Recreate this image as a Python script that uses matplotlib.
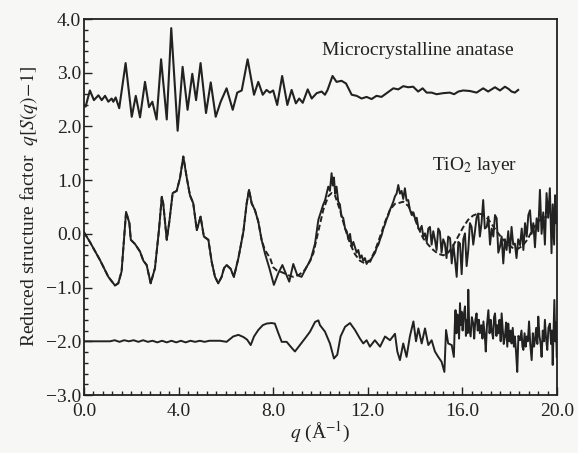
import numpy as np
import matplotlib
matplotlib.use("Agg")
import matplotlib.pyplot as plt
from matplotlib.ticker import MultipleLocator, FuncFormatter

# --- data -----------------------------------------------------------------
# microcrystalline anatase (offset curve)
q_anatase = [0.00, 0.07, 0.25, 0.42, 0.61, 0.75, 0.89, 1.03, 1.17, 1.24, 1.34, 1.49,
             1.76, 2.02, 2.19, 2.37, 2.58, 2.75, 2.89, 3.07, 3.26, 3.50, 3.69, 3.96,
             4.17, 4.38, 4.58, 4.74, 4.93, 5.16, 5.36, 5.57, 5.78, 6.03, 6.29, 6.48,
             6.67, 6.92, 7.19, 7.37, 7.56, 7.72, 7.86, 8.00, 8.17, 8.38, 8.60, 8.78,
             8.96, 9.10, 9.25, 9.46, 9.63, 9.84, 10.05, 10.19, 10.30, 10.51, 10.68,
             10.89, 11.08, 11.32, 11.53, 11.74, 11.95, 12.16, 12.37, 12.58, 12.80,
             13.08, 13.29, 13.50, 13.71, 13.92, 14.13, 14.32, 14.49, 14.70, 14.91,
             15.19, 15.47, 15.65, 15.83, 16.04, 16.32, 16.60, 16.88, 17.09, 17.38,
             17.59, 17.80, 17.95, 18.08, 18.22, 18.36]
s_anatase = [2.40, 2.37, 2.67, 2.49, 2.58, 2.49, 2.57, 2.46, 2.52, 2.46, 2.54, 2.34,
             3.18, 2.18, 2.57, 2.17, 2.83, 2.36, 2.46, 2.13, 3.25, 2.13, 3.83, 1.92,
             3.11, 2.31, 2.98, 2.49, 3.18, 2.25, 2.82, 2.18, 2.46, 2.71, 2.31, 2.63,
             2.67, 3.25, 2.59, 2.83, 2.59, 2.68, 2.63, 2.67, 2.40, 2.94, 2.40, 2.68,
             2.43, 2.52, 2.44, 2.69, 2.52, 2.62, 2.65, 2.59, 2.68, 2.94, 2.83,
             2.85, 2.80, 2.59, 2.57, 2.52, 2.55, 2.51, 2.57, 2.55, 2.62,
             2.71, 2.69, 2.75, 2.73, 2.74, 2.65, 2.71, 2.63, 2.63, 2.60,
             2.62, 2.63, 2.60, 2.65, 2.67, 2.66, 2.63, 2.71, 2.65, 2.73,
             2.67, 2.74, 2.70, 2.65, 2.63, 2.68]

# TiO2 layer, measured (solid)
q_layer = [0.00, 0.25, 0.68, 1.03, 1.31, 1.45, 1.59, 1.78, 1.92, 1.98, 2.16, 2.37,
           2.51, 2.65, 2.82, 3.00, 3.17, 3.29, 3.35, 3.50, 3.61, 3.75, 3.92, 4.06,
           4.20, 4.34, 4.48, 4.62, 4.77, 4.93, 5.07, 5.26, 5.40, 5.54, 5.68, 5.82,
           5.92, 6.03, 6.20, 6.34, 6.53, 6.74, 6.88, 6.98, 7.09, 7.23, 7.37, 7.51,
           7.65, 7.84, 8.03, 8.22, 8.39, 8.50, 8.68, 8.85, 9.02, 9.20, 9.42, 9.58,
           9.77, 9.91, 10.05, 10.12, 10.19, 10.26, 10.33, 10.40, 10.47, 10.52, 10.57,
           10.62, 10.68, 10.75, 10.82, 10.89, 10.96, 11.04, 11.11, 11.18, 11.25,
           11.32, 11.39, 11.46, 11.53, 11.60, 11.67, 11.74, 11.81, 11.88, 11.95,
           12.03, 12.10, 12.17, 12.24, 12.31, 12.38, 12.45, 12.52, 12.59, 12.66,
           12.73, 12.80, 12.87, 12.94, 13.01, 13.08, 13.15, 13.22, 13.29, 13.36,
           13.43, 13.50, 13.57, 13.64, 13.71, 13.78, 13.86, 13.93, 14.00, 14.07,
           14.14, 14.21, 14.28, 14.35, 14.42, 14.49, 14.56, 14.63, 14.70, 14.77,
           14.84, 14.91, 14.98, 15.05, 15.12, 15.19, 15.26, 15.33, 15.40, 15.48,
           15.55, 15.62, 15.69, 15.76, 15.83, 15.90, 15.97, 16.04, 16.11, 16.18,
           16.25, 16.32, 16.39, 16.46, 16.53, 16.60, 16.67, 16.74, 16.81, 16.88,
           16.95, 17.03, 17.10, 17.17, 17.24, 17.31, 17.38, 17.45, 17.52, 17.59,
           17.66, 17.73, 17.80, 17.87, 17.94, 18.01, 18.08, 18.15, 18.22, 18.29,
           18.36, 18.44, 18.51, 18.58, 18.65, 18.72, 18.79, 18.86, 18.93, 19.00,
           19.07, 19.14, 19.21, 19.28, 19.35, 19.42, 19.49, 19.56, 19.63, 19.70,
           19.77, 19.82, 19.88, 19.92, 19.97]
s_layer = [0.03, -0.15, -0.49, -0.80, -0.96, -0.92, -0.70, 0.41, 0.20, -0.11, -0.19, -0.33,
           -0.50, -0.58, -0.92, -0.64, 0.07, 0.69, 0.57, -0.11, 0.23, 0.76, 0.80, 1.04,
           1.44, 1.06, 0.72, 0.57, 0.07, 0.32, -0.05, -0.11, -0.52, -0.80, -0.92, -0.80,
           -0.64, -0.58, -0.65, -0.80, -0.45, 0.04, 0.57, 0.82, 0.57, 0.44, 0.23, -0.11,
           -0.36, -0.64, -0.95, -0.73, -0.58, -0.70, -0.89, -0.56, -0.77, -0.80, -0.61, -0.49,
           -0.18, 0.26, 0.45, 0.55, 0.62, 0.75, 0.88, 0.80, 1.13, 0.90, 1.05,
           0.75, 0.88, 0.60, 0.55, 0.32, 0.30, 0.10, 0.05, -0.10, 0.00,
           -0.24, -0.15, -0.25, -0.35, -0.30, -0.45, -0.40, -0.50, -0.45, -0.56,
           -0.50, -0.52, -0.45, -0.40, -0.35, -0.25, -0.20, -0.10, -0.02, 0.10,
           0.18, 0.28, 0.35, 0.45, 0.52, 0.60, 0.70, 0.75, 0.91, 0.75,
           0.80, 0.65, 0.85, 0.62, 0.63, 0.45, 0.35, 0.40, 0.28, 0.30,
           0.10, 0.07, 0.15, -0.05, 0.01, -0.15, 0.10, 0.13, -0.20, 0.05,
           -0.11, -0.30, 0.10, 0.04, -0.35, -0.10, -0.18, -0.45, -0.05, -0.08,
           -0.55, -0.20, -0.49, -0.80, -0.15, -0.18, -0.75, -0.10, 0.01, -0.60,
           -0.30, 0.20, 0.13, -0.20, 0.04, 0.30, 0.38, -0.05, 0.20, 0.63,
           0.10, 0.13, 0.32, -0.20, 0.10, -0.05, 0.35, 0.29, -0.35, -0.24,
           -0.05, -0.55, -0.10, -0.30, 0.05, -0.35, 0.13, -0.20, -0.18, -0.45,
           -0.10, -0.21, 0.10, -0.30, 0.20, -0.05, 0.35, 0.44, 0.00, 0.20,
           -0.25, 0.29, 0.05, 0.82, 0.00, 0.40, -0.20, 0.76, 0.30, 0.85,
           -0.36, 0.55, -0.20, 0.72, 0.20]

# TiO2 layer, model (dashed)
q_model = [0.00, 0.25, 0.68, 1.03, 1.31, 1.45, 1.59, 1.78, 1.92, 1.98, 2.16, 2.37,
           2.51, 2.65, 2.82, 3.00, 3.17, 3.29, 3.35, 3.50, 3.61, 3.75, 3.92, 4.06,
           4.20, 4.34, 4.48, 4.62, 4.77, 4.93, 5.07, 5.26, 5.40, 5.54, 5.68, 5.82,
           5.92, 6.03, 6.20, 6.34, 6.53, 6.74, 6.88, 6.98, 7.09, 7.23, 7.37, 7.51,
           7.65, 7.87, 8.00, 8.15, 8.29, 8.50, 8.70, 8.85, 9.10, 9.34, 9.50, 9.70,
           9.91, 10.12, 10.33, 10.47, 10.61, 10.82, 11.04, 11.25, 11.46, 11.67, 11.88,
           12.09, 12.30, 12.52, 12.73, 12.94, 13.15, 13.36, 13.50, 13.71, 13.92, 14.13,
           14.34, 14.55, 14.77, 14.98, 15.19, 15.40, 15.61, 15.82, 16.03, 16.24, 16.45,
           16.66, 16.87, 17.08, 17.29, 17.50, 17.71, 17.92, 18.13, 18.34, 18.55, 18.76,
           18.97, 19.18, 19.39, 19.60]
s_model = [0.03, -0.15, -0.49, -0.80, -0.96, -0.92, -0.70, 0.41, 0.20, -0.11, -0.19, -0.33,
           -0.50, -0.58, -0.92, -0.64, 0.07, 0.69, 0.57, -0.11, 0.23, 0.76, 0.80, 1.04,
           1.44, 1.06, 0.72, 0.57, 0.07, 0.32, -0.05, -0.11, -0.52, -0.80, -0.92, -0.80,
           -0.64, -0.58, -0.65, -0.80, -0.45, 0.04, 0.57, 0.82, 0.57, 0.44, 0.23, -0.11,
           -0.30, -0.45, -0.62, -0.68, -0.70, -0.74, -0.78, -0.80, -0.76, -0.67, -0.55, -0.36,
           0.05, 0.45, 0.70, 0.76, 0.72, 0.45, 0.10, -0.18, -0.38, -0.50, -0.55,
           -0.50, -0.32, -0.05, 0.22, 0.45, 0.56, 0.58, 0.60, 0.52, 0.36, 0.12,
           -0.08, -0.20, -0.30, -0.37, -0.40, -0.35, -0.22, -0.05, 0.12, 0.26, 0.34,
           0.38, 0.36, 0.28, 0.15, 0.02, -0.10, -0.20, -0.26, -0.28, -0.22, -0.10,
           0.08, 0.22, 0.30, 0.32]

# difference curve (offset -2)
q_diff = [0.00, 1.10, 1.30, 1.50, 1.70, 1.90, 2.10, 2.30, 2.50, 2.70, 2.90, 3.10,
          3.30, 3.50, 3.70, 3.90, 4.10, 4.30, 4.50, 4.70, 4.90, 5.10, 5.30, 5.50,
          5.75, 6.03, 6.31, 6.53, 6.74, 6.90, 7.05, 7.19, 7.37, 7.56, 7.72, 7.93,
          8.07, 8.22, 8.36, 8.57, 8.74, 8.92, 9.13, 9.34, 9.56, 9.77, 9.91, 9.98,
          10.19, 10.40, 10.57, 10.71, 10.85, 11.04, 11.25, 11.46, 11.67, 11.81, 11.95,
          12.09, 12.30, 12.52, 12.73, 12.94, 13.15, 13.25, 13.36, 13.50, 13.64, 13.78,
          13.93, 14.04, 14.14, 14.28, 14.42, 14.56, 14.70, 14.84, 14.98, 15.12, 15.24,
          15.31, 15.40, 15.55, 15.64, 15.68, 15.71, 15.75, 15.79, 15.83, 15.86, 15.90,
          15.94, 15.97, 16.01, 16.05, 16.11, 16.15, 16.18, 16.22, 16.25, 16.29, 16.35,
          16.40, 16.46, 16.50, 16.55, 16.60, 16.65, 16.70, 16.74, 16.80, 16.85, 16.89,
          16.95, 16.99, 17.04, 17.10, 17.15, 17.20, 17.24, 17.30, 17.34, 17.38, 17.44,
          17.48, 17.52, 17.57, 17.62, 17.66, 17.71, 17.75, 17.80, 17.85, 17.90, 17.94,
          17.99, 18.04, 18.08, 18.13, 18.18, 18.22, 18.27, 18.32, 18.37, 18.44, 18.50,
          18.54, 18.58, 18.63, 18.68, 18.72, 18.77, 18.82, 18.87, 18.93, 18.98, 19.03,
          19.07, 19.12, 19.17, 19.21, 19.26, 19.31, 19.35, 19.40, 19.45, 19.49, 19.54,
          19.59, 19.64, 19.70, 19.75, 19.79, 19.82, 19.86, 19.89, 19.93, 19.96, 19.99]
s_diff = [-2.00, -2.00, -1.98, -2.01, -1.98, -2.00, -1.98, -2.01, -1.98, -2.01, -1.99, -2.02,
          -1.99, -2.02, -1.99, -2.02, -1.99, -2.02, -1.99, -2.01, -1.99, -2.01, -1.99, -1.99,
          -1.99, -2.01, -1.91, -1.88, -1.92, -1.97, -2.07, -1.91, -1.79, -1.70, -1.67, -1.66,
          -1.67, -1.85, -2.01, -2.01, -2.10, -2.19, -2.07, -1.95, -1.82, -1.64, -1.61, -1.70,
          -1.82, -2.04, -2.32, -2.25, -1.91, -1.73, -1.66, -1.79, -1.95, -2.04, -1.98,
          -2.10, -1.98, -2.10, -1.91, -1.98, -1.86, -2.19, -2.35, -2.04, -2.29, -1.91,
          -1.63, -2.00, -1.76, -2.04, -1.76, -2.07, -1.98, -2.19, -2.29, -2.38, -2.57,
          -1.79, -2.04, -2.07, -2.29, -1.70, -1.42, -1.85, -1.50, -1.63, -1.95, -1.29,
          -1.70, -1.45, -1.80, -1.55, -1.35, -1.90, -1.60, -1.85, -1.04, -1.75, -1.91,
          -1.55, -1.67, -1.95, -1.60, -1.48, -1.80, -1.60, -1.85, -1.70, -1.95, -1.63,
          -1.90, -2.19, -1.70, -1.42, -1.85, -1.60, -1.79, -1.95, -1.55, -1.48, -1.90,
          -1.70, -1.85, -1.60, -2.00, -1.48, -1.80, -2.05, -1.91, -1.65, -2.10, -1.67,
          -2.00, -1.80, -2.04, -1.75, -2.10, -1.91, -2.20, -2.57, -1.90, -1.98, -1.80,
          -2.10, -2.16, -1.85, -2.10, -1.91, -2.00, -1.63, -2.05, -2.35, -1.85, -2.10,
          -1.98, -1.75, -2.05, -1.54, -1.90, -2.05, -2.29, -1.80, -2.00, -1.60, -1.95,
          -2.16, -1.75, -1.67, -2.05, -1.80, -2.44, -1.70, -1.23, -2.00, -1.65, -2.29]

x_ticks = [0.0, 4.0, 8.0, 12.0, 16.0, 20.0]
y_ticks = [-3.0, -2.0, -1.0, 0.0, 1.0, 2.0, 3.0, 4.0]

# --- figure ----------------------------------------------------------------
plt.rcParams['font.family'] = ['Liberation Serif', 'DejaVu Serif']
plt.rcParams['mathtext.fontset'] = 'stix'

ink = '#222222'
fig = plt.figure(figsize=(5.78, 4.53), dpi=100, facecolor='#f7f7f5')
ax = fig.add_axes([0.1453, 0.128, 0.8183, 0.830])
ax.set_facecolor('#f7f7f5')

ax.plot(q_anatase, s_anatase, color=ink, lw=1.5, solid_joinstyle='round')
ax.plot(q_model, s_model, color=ink, lw=1.4, ls=(0, (3, 1.5)))
ax.plot(q_layer, s_layer, color=ink, lw=1.4, solid_joinstyle='round')
ax.plot(q_diff, s_diff, color=ink, lw=1.4, solid_joinstyle='round')

ax.set_xlim(0, 20)
ax.set_ylim(-3, 4)
ax.set_xticks(x_ticks)
ax.set_yticks(y_ticks)
ax.xaxis.set_minor_locator(MultipleLocator(0.4))
ax.yaxis.set_minor_locator(MultipleLocator(0.2))
fmt = FuncFormatter(lambda v, p: f'{v:.1f}'.replace('-', '\u2212'))
ax.xaxis.set_major_formatter(fmt)
ax.yaxis.set_major_formatter(fmt)
ax.tick_params(which='both', direction='in', colors=ink, labelsize=14, width=1.0)
ax.tick_params(which='major', length=6)
ax.tick_params(which='minor', length=3)
ax.tick_params(axis='x', which='major', pad=6)
ax.tick_params(axis='y', which='major', pad=2)
for sp in ax.spines.values():
    sp.set_color(ink)
    sp.set_linewidth(1.3)

ax.text(14.1, 3.42, 'Microcrystalline anatase', fontsize=14, color=ink,
        ha='center', va='center')
ax.text(16.5, 1.28, r'TiO$_2$ layer', fontsize=14, color=ink,
        ha='center', va='center')

ax.set_xlabel(r'$q$ (Å$^{-1}$)', fontsize=14, color=ink, labelpad=0)
ax.set_ylabel(r'Reduced structure factor  $q[S(q)\!-\!1]$', fontsize=14,
              color=ink, labelpad=4)

fig.savefig('out.png', dpi=100, facecolor=fig.get_facecolor())
